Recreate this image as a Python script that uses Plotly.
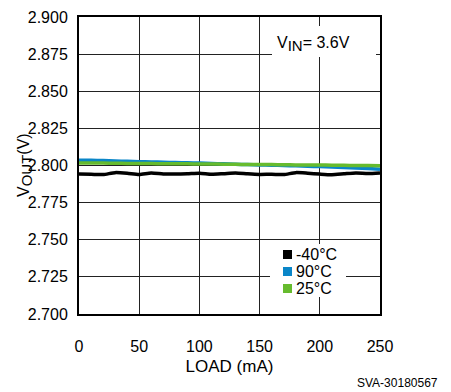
import plotly.graph_objects as go

load_ma = [0, 10, 20, 30, 40, 50, 60, 70, 80, 90, 100, 110, 120, 130, 140, 150,
           160, 170, 180, 190, 200, 210, 220, 230, 240, 250]
v_m40 = [2.7942, 2.7941, 2.7939, 2.7952, 2.7948, 2.7940, 2.7950, 2.7943, 2.7942, 2.7944,
         2.7948, 2.7941, 2.7945, 2.7950, 2.7944, 2.7940, 2.7941, 2.7939, 2.7952, 2.7948,
         2.7942, 2.7938, 2.7944, 2.7950, 2.7946, 2.7950]
v_90 = [2.8036, 2.8035, 2.8033, 2.8030, 2.8028, 2.8026, 2.8024, 2.8022, 2.8020, 2.8018,
        2.8016, 2.8013, 2.8011, 2.8009, 2.8006, 2.8004, 2.8002, 2.8000, 2.7998, 2.7995,
        2.7993, 2.7990, 2.7987, 2.7983, 2.7979, 2.7975]
v_25 = [2.8017, 2.8017, 2.8016, 2.8015, 2.8014, 2.8013, 2.8013, 2.8012, 2.8011, 2.8011,
        2.8010, 2.8010, 2.8009, 2.8008, 2.8007, 2.8006, 2.8006, 2.8005, 2.8004, 2.8003,
        2.8003, 2.8002, 2.8001, 2.8000, 2.8000, 2.7999]

series_names = ["-40°C", "90°C", "25°C"]
series_colors = ["#000000", "#0a86c8", "#66bb2e"]
x_ticks = [0, 50, 100, 150, 200, 250]
y_ticks = [2.700, 2.725, 2.750, 2.775, 2.800, 2.825, 2.850, 2.875, 2.900]

FONT = "Liberation Sans, Arial, Helvetica, sans-serif"

fig = go.Figure()
for name, vals, col in zip(series_names, [v_m40, v_90, v_25], series_colors):
    fig.add_trace(go.Scatter(x=load_ma, y=vals, mode="lines", name=name,
                             line=dict(color=col, width=3.5, shape="spline", smoothing=0.6),
                             showlegend=False))

W, H = 451, 392
L, R, T, B = 79, 71, 17, 78
pw, ph = W - L - R, H - T - B

def px(xp):
    return (xp - L) / pw

def py(yp):
    return (H - B - yp) / ph

fig.update_layout(
    width=W, height=H,
    margin=dict(l=L, r=R, t=T, b=B, autoexpand=False),
    paper_bgcolor="white", plot_bgcolor="white",
    font=dict(family=FONT, size=16, color="#000"),
    xaxis=dict(range=[0, 250], tickvals=x_ticks, ticktext=[str(v) for v in x_ticks],
               showgrid=True, gridcolor="#222", gridwidth=1,
               showline=True, linecolor="#000", linewidth=2, mirror=True,
               ticks="", ticklabelstandoff=17, zeroline=False, automargin=False,
               title=dict(text="LOAD (mA)", font=dict(size=17), standoff=6),
               tickfont=dict(size=16)),
    yaxis=dict(range=[2.700, 2.900], tickvals=y_ticks,
               ticktext=[f"{v:.3f}" for v in y_ticks],
               showgrid=True, gridcolor="#222", gridwidth=1,
               showline=True, linecolor="#000", linewidth=2, mirror=True,
               ticks="", ticklabelstandoff=6, zeroline=False, automargin=False,
               tickfont=dict(size=16)),
)

shapes = [
    # VIN label background
    dict(type="rect", xref="paper", yref="paper", x0=px(272), x1=px(376), y0=py(57), y1=py(26),
         fillcolor="white", line=dict(width=0), layer="above"),
    # legend background
    dict(type="rect", xref="paper", yref="paper", x0=px(270), x1=px(346), y0=py(297), y1=py(244),
         fillcolor="white", line=dict(width=0), layer="above"),
]
row_y = [254.5, 271.5, 288.5]
for ry, col in zip(row_y, series_colors):
    shapes.append(dict(type="rect", xref="paper", yref="paper", x0=px(283), x1=px(292),
                       y0=py(ry + 4.5), y1=py(ry - 4.5), fillcolor=col,
                       line=dict(width=0), layer="above"))
fig.update_layout(shapes=shapes)

annotations = [
    dict(text="V<sub><span style='font-size:15px'>IN</span></sub>= 3.6V", xref="paper", yref="paper",
         x=px(275), y=py(44), xanchor="left", yanchor="middle", showarrow=False, font=dict(size=16)),
    dict(text="V<sub><span style='font-size:15px'>OUT</span></sub>(V)", xref="paper", yref="paper",
         x=px(25), y=py(165), xanchor="center", yanchor="middle", textangle=-90, showarrow=False,
         font=dict(size=16)),
    dict(text="SVA-30180567", xref="paper", yref="paper", x=px(440), y=py(383),
         xanchor="right", yanchor="middle", showarrow=False, font=dict(size=12)),
]
for ry, name in zip(row_y, series_names):
    annotations.append(dict(text=name, xref="paper", yref="paper", x=px(294), y=py(ry),
                            xanchor="left", yanchor="middle", showarrow=False,
                            font=dict(size=16)))
fig.update_layout(annotations=annotations)

fig.write_html("out.html", config={"displayModeBar": False},
               post_script="document.body.style.margin='0';document.body.style.padding='0';")
